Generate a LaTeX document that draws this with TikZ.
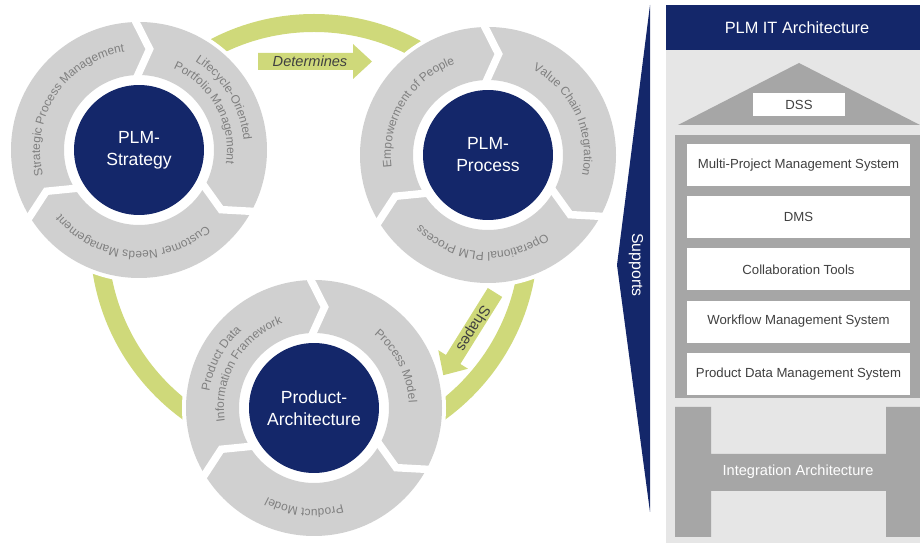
\documentclass[tikz,border=0pt]{standalone}
\usepackage{fontspec}
\setmainfont{Liberation Sans}
\usepackage{tikz}
\usetikzlibrary{decorations.text}
\usetikzlibrary{positioning}
\tikzset{>=latex}
\definecolor{plmnavy}{HTML}{14276A}
\definecolor{seggray}{HTML}{D0D0D0}
\definecolor{segtextc}{HTML}{7F7F7F}
\definecolor{bandgreen}{HTML}{CFD97A}
\definecolor{panelbg}{HTML}{E6E6E6}
\definecolor{paneldark}{HTML}{A6A6A6}
\definecolor{boxtext}{HTML}{404040}
\newcommand{\segfont}{\fontsize{6.8}{8}\selectfont\color{segtextc}}

\begin{document}
\begin{tikzpicture}[x=0.02cm, y=0.02cm,
    hub/.style={circle, fill=plmnavy, minimum size=2.6cm, inner sep=0pt, text=white, align=center, font=\fontsize{10}{12.5}\selectfont},
    segtext/.style={decorate, decoration={text along path, text align=center, text={|\segfont|#1}}},
    segcut/.style={white, line width=0.15cm, line join=miter},
    band/.style={bandgreen, line width=0.36cm},
    sysbox/.style={fill=white, minimum width=4.46cm, minimum height=0.84cm, inner sep=0pt, text=boxtext, font=\fontsize{7.5}{9}\selectfont}]
  \useasboundingbox (0,0) rectangle (920,544);
  \clip (0,0) rectangle (920,544);
  \coordinate (c1) at (139,394);
  \coordinate (c2) at (488,389);
  \coordinate (c3) at (314,136);
  \coordinate (cyc) at (314,306);

  % green band linking the three rings
  \draw[band] (cyc) circle (215);

  % segmented rings
  \foreach \c in {c1,c2,c3} {
    \fill[white] (\c) circle (132);
    \fill[seggray, even odd rule] (\c) circle (128) (\c) circle (75);
    \foreach \a in {92,212,332}
      \draw[segcut] ([shift={(\a:131)}]\c) -- ([shift={(\a-8:101.5)}]\c) -- ([shift={(\a:72)}]\c);
  }

  \node[hub] (strategy) at (c1) {PLM-\\Strategy};
  \node[hub] (process) at (c2) {PLM-\\Process};
  \node[hub] (architecture) at (c3) {Product-\\Architecture};

  % segment labels
  \path[segtext={Strategic Process Management}] (c1) ++(216.5:99) arc[start angle=216.5, end angle=76.5, radius=99];
  \path[segtext={Lifecycle-Oriented}] (c1) ++(101.5:105) arc[start angle=101.5, end angle=-38.5, radius=105];
  \path[segtext={Portfolio Management}] (c1) ++(99:88) arc[start angle=99, end angle=-41, radius=88];
  \path[segtext={Customer Needs Management}] (c1) ++(-24.5:101) arc[start angle=-24.5, end angle=-164.5, radius=101];
  \path[segtext={Empowerment of People}] (c2) ++(218.5:97) arc[start angle=218.5, end angle=78.5, radius=97];
  \path[segtext={Value Chain Integration}] (c2) ++(95:96) arc[start angle=95, end angle=-45, radius=96];
  \path[segtext={Operational PLM Process}] (c2) ++(-24:97) arc[start angle=-24, end angle=-164, radius=97];
  \path[segtext={Product Data}] (c3) ++(222:106) arc[start angle=222, end angle=82, radius=106];
  \path[segtext={Information Framework}] (c3) ++(219.5:90) arc[start angle=219.5, end angle=79.5, radius=90];
  \path[segtext={Process Model}] (c3) ++(97:95) arc[start angle=97, end angle=-43, radius=95];
  \path[segtext={Product Model}] (c3) ++(-25.5:101) arc[start angle=-25.5, end angle=-165.5, radius=101];

  % block arrows
  \fill[bandgreen] (258,474) -- (353,474) -- (353,465) -- (372,482.5) -- (353,500) -- (353,491) -- (258,491) -- cycle;
  \node[font=\itshape\fontsize{8.3}{10}\selectfont, text=boxtext] (determines) at (310,482.5) {Determines};
  \begin{scope}[shift={(495,251.5)}, rotate=238]
    \fill[bandgreen] (0,-8.5) -- (79,-8.5) -- (79,-17.5) -- (97.5,0) -- (79,17.5) -- (79,8.5) -- (0,8.5) -- cycle;
    \node[rotate=238, font=\fontsize{8.5}{10}\selectfont, text=boxtext] (shapes) at (42,0) {Shapes};
  \end{scope}

  \fill[plmnavy] (650,539) -- (617,279) -- (650,32) -- cycle;
  \node[rotate=-90, font=\fontsize{9}{11}\selectfont, text=white] (supports) at (636,279) {Supports};

  % IT architecture house
  \fill[panelbg] (666,1) rectangle (925,494);
  \fill[plmnavy] (666,494) rectangle (925,539);
  \node[font=\fontsize{9.3}{11}\selectfont, text=white] (itarch) at (797,516.5) {PLM IT Architecture};
  \fill[paneldark] (678,419) -- (799,481) -- (920,419) -- cycle;
  \node[sysbox, minimum width=1.84cm, minimum height=0.46cm] (dss) at (799,439.5) {DSS};
  \fill[paneldark] (675,146) rectangle (925,409);
  \node[sysbox] (mpms) at (798.5,379) {Multi-Project Management System};
  \node[sysbox, below=0.19cm of mpms] (dms) {DMS};
  \node[sysbox, below=0.19cm of dms] (collab) {Collaboration Tools};
  \node[sysbox, below=0.19cm of collab] (wfms) {Workflow Management System};
  \node[sysbox, below=0.19cm of wfms] (pdms) {Product Data Management System};
  \fill[paneldark] (675,7) rectangle (711,137) (886,7) rectangle (925,137) (711,53) rectangle (886,90);
  \node[font=\fontsize{8.3}{10}\selectfont, text=white] (integ) at (798,72) {Integration Architecture};
\end{tikzpicture}
\end{document}
